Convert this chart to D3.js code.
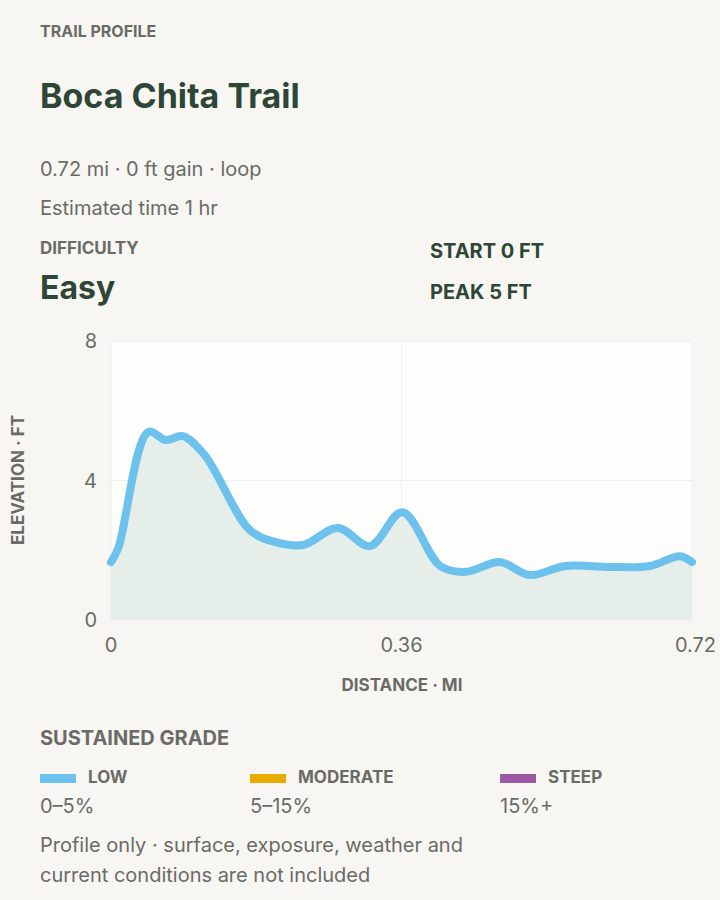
<!DOCTYPE html>
<html><head><meta charset="utf-8">
<script src="https://cdn.jsdelivr.net/npm/d3@7"></script>
<style>body{margin:0;background:#f7f6f2;font-family:Inter,"Noto Sans",sans-serif;}</style>
</head><body><svg id="c" width="720" height="900"></svg>
<script>
const distance = [0, 0.009, 0.046, 0.068, 0.089, 0.116, 0.172, 0.203, 0.238, 0.281, 0.321, 0.361, 0.408, 0.439, 0.482, 0.519, 0.563, 0.618, 0.668, 0.705, 0.72];
const elevation = [1.66, 2.06, 5.39, 5.16, 5.27, 4.73, 2.58, 2.24, 2.15, 2.64, 2.12, 3.09, 1.55, 1.38, 1.66, 1.29, 1.55, 1.52, 1.55, 1.83, 1.66];
const xTicks = [0, 0.36, 0.72];
const yTicks = [0, 4, 8];
const grades = [{name:"LOW", range:"0–5%", color:"#6cc2ec"}, {name:"MODERATE", range:"5–15%", color:"#e6ac00"}, {name:"STEEP", range:"15%+", color:"#9b59a6"}];

const svg = d3.select("#c");
const dark = "#2e4636", grey = "#6b6b66";
function t(x, y, s, size, w, c, anchor) {
  return svg.append("text").attr("x", x).attr("y", y).text(s).attr("font-size", size)
    .attr("font-weight", w).attr("fill", c).attr("text-anchor", anchor || "start");
}
t(40, 37, "TRAIL PROFILE", 16, 700, grey);
t(40, 108, "Boca Chita Trail", 34, 700, dark);
t(40, 176, "0.72 mi · 0 ft gain · loop", 20, 400, grey);
t(40, 215, "Estimated time 1 hr", 20, 400, grey);
t(40, 254, "DIFFICULTY", 17, 700, grey);
t(40, 299, "Easy", 32, 700, dark);
t(430, 258, "START 0 FT", 20, 700, dark);
t(430, 299, "PEAK 5 FT", 20, 700, dark);

const x = d3.scaleLinear().domain([0, 0.72]).range([111, 692]);
const y = d3.scaleLinear().domain([0, 8]).range([620, 341]);
svg.append("rect").attr("x", 111).attr("y", 341).attr("width", 581).attr("height", 279).attr("fill", "#fdfdfc");
svg.selectAll(".gx").data(xTicks).join("line").attr("x1", d => x(d)).attr("x2", d => x(d))
  .attr("y1", 341).attr("y2", 620).attr("stroke", "#eeeeea");
svg.selectAll(".gy").data(yTicks).join("line").attr("y1", d => y(d)).attr("y2", d => y(d))
  .attr("x1", 111).attr("x2", 692).attr("stroke", "#eeeeea");
const pts = distance.map((d, i) => [d, elevation[i]]);
const curve = d3.curveCatmullRom.alpha(0.5);
svg.append("path").datum(pts).attr("fill", "#e5eee8")
  .attr("d", d3.area().x(d => x(d[0])).y0(y(0)).y1(d => y(d[1])).curve(curve));
svg.append("path").datum(pts).attr("fill", "none").attr("stroke", "#6cc2ec").attr("stroke-width", 8)
  .attr("stroke-linecap", "round").attr("stroke-linejoin", "round")
  .attr("d", d3.line().x(d => x(d[0])).y(d => y(d[1])).curve(curve));
yTicks.forEach(v => t(97, y(v) + 7, v, 20, 400, grey, "end"));
xTicks.forEach((v, i) => t(i == 2 ? 716 : x(v), 652, v, 20, 400, grey, i == 2 ? "end" : "middle"));
t(402, 691, "DISTANCE · MI", 17, 700, grey, "middle");
t(0, 0, "ELEVATION · FT", 17, 700, grey, "middle").attr("transform", "translate(24,480) rotate(-90)");

t(40, 745, "SUSTAINED GRADE", 20, 700, grey);
const gx = [40, 250, 500];
grades.forEach((g, i) => {
  svg.append("rect").attr("x", gx[i]).attr("y", 774).attr("width", 36).attr("height", 9).attr("fill", g.color);
  t(gx[i] + 48, 783, g.name, 17, 700, grey);
  t(gx[i], 813, g.range, 20, 400, grey);
});
t(40, 852, "Profile only · surface, exposure, weather and", 20, 400, grey);
t(40, 882, "current conditions are not included", 20, 400, grey);
</script></body></html>
